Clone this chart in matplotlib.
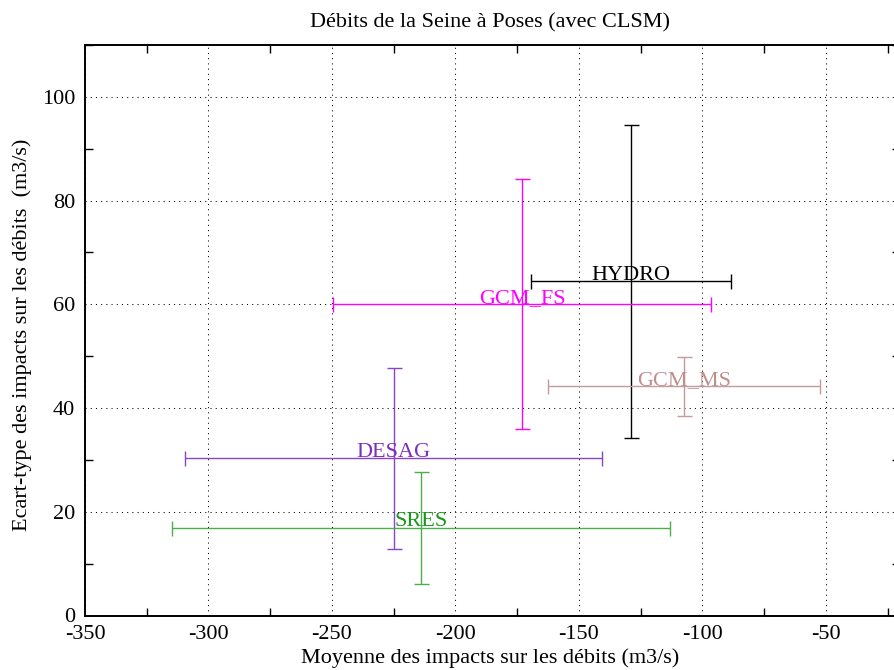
import numpy as np
import matplotlib
matplotlib.use('Agg')
import matplotlib.pyplot as plt
from matplotlib.ticker import MultipleLocator

plt.rcParams['font.family'] = ['Liberation Serif', 'DejaVu Serif']
plt.rcParams['font.size'] = 16
plt.rcParams['axes.unicode_minus'] = False

# scenarios: mean impact (x), std of impact (y), half-ranges of the bars
names = ['HYDRO', 'GCM_FS', 'GCM_MS', 'DESAG', 'SRES']
mean_x = [-129.0, -173.0, -107.5, -225.0, -214.1]
std_y = [64.4, 60.0, 44.2, 30.3, 16.9]
xerr = [40.5, 76.5, 55.2, 84.4, 100.8]
yerr = [30.1, 24.1, 5.65, 17.5, 10.8]
line_col = ['#000000', '#ff00ff', '#c49a9a', '#8a44cc', '#4cae4c']
text_col = ['#000000', '#ff00ff', '#bf8f8f', '#7a30bc', '#1a961a']

fig = plt.figure(figsize=(8.95, 6.70), dpi=100)
ax = fig.add_axes([85/895, 54.5/670, 815/895, 570.5/670])

for i in range(len(names)):
    ax.errorbar(mean_x[i], std_y[i], xerr=xerr[i], yerr=yerr[i],
                fmt='none', ecolor=line_col[i], elinewidth=1.0,
                capsize=5.4, capthick=1.0, zorder=3)
    ax.text(mean_x[i], std_y[i] + 0.3, names[i], color=text_col[i],
            ha='center', va='baseline', fontsize=16, zorder=4)

ax.set_xlim(-350, -20)
ax.set_ylim(0, 110)
ax.xaxis.set_major_locator(MultipleLocator(50))
ax.xaxis.set_minor_locator(MultipleLocator(25))
ax.yaxis.set_major_locator(MultipleLocator(20))
ax.yaxis.set_minor_locator(MultipleLocator(10))

ax.grid(True, which='major', color='black', linestyle=(0, (1, 4)), linewidth=0.75)
ax.tick_params(which='major', direction='in', length=0, pad=7, labelsize=16)
ax.tick_params(which='minor', direction='in', length=5.8, width=1.0,
               top=True, right=True)
for s in ax.spines.values():
    s.set_linewidth(1.4)

fig.text(490/895, 1 - 27/670, 'Débits de la Seine à Poses (avec CLSM)',
         ha='center', va='baseline', fontsize=16)
fig.text(490/895, 1 - 663/670, 'Moyenne des impacts sur les débits (m3/s)',
         ha='center', va='baseline', fontsize=16)
fig.text(22/895, 1 - 335/670, 'Ecart-type des impacts sur les débits  (m3/s)',
         ha='center', va='center', rotation=90, fontsize=16)

fig.savefig('out.png', dpi=100)
